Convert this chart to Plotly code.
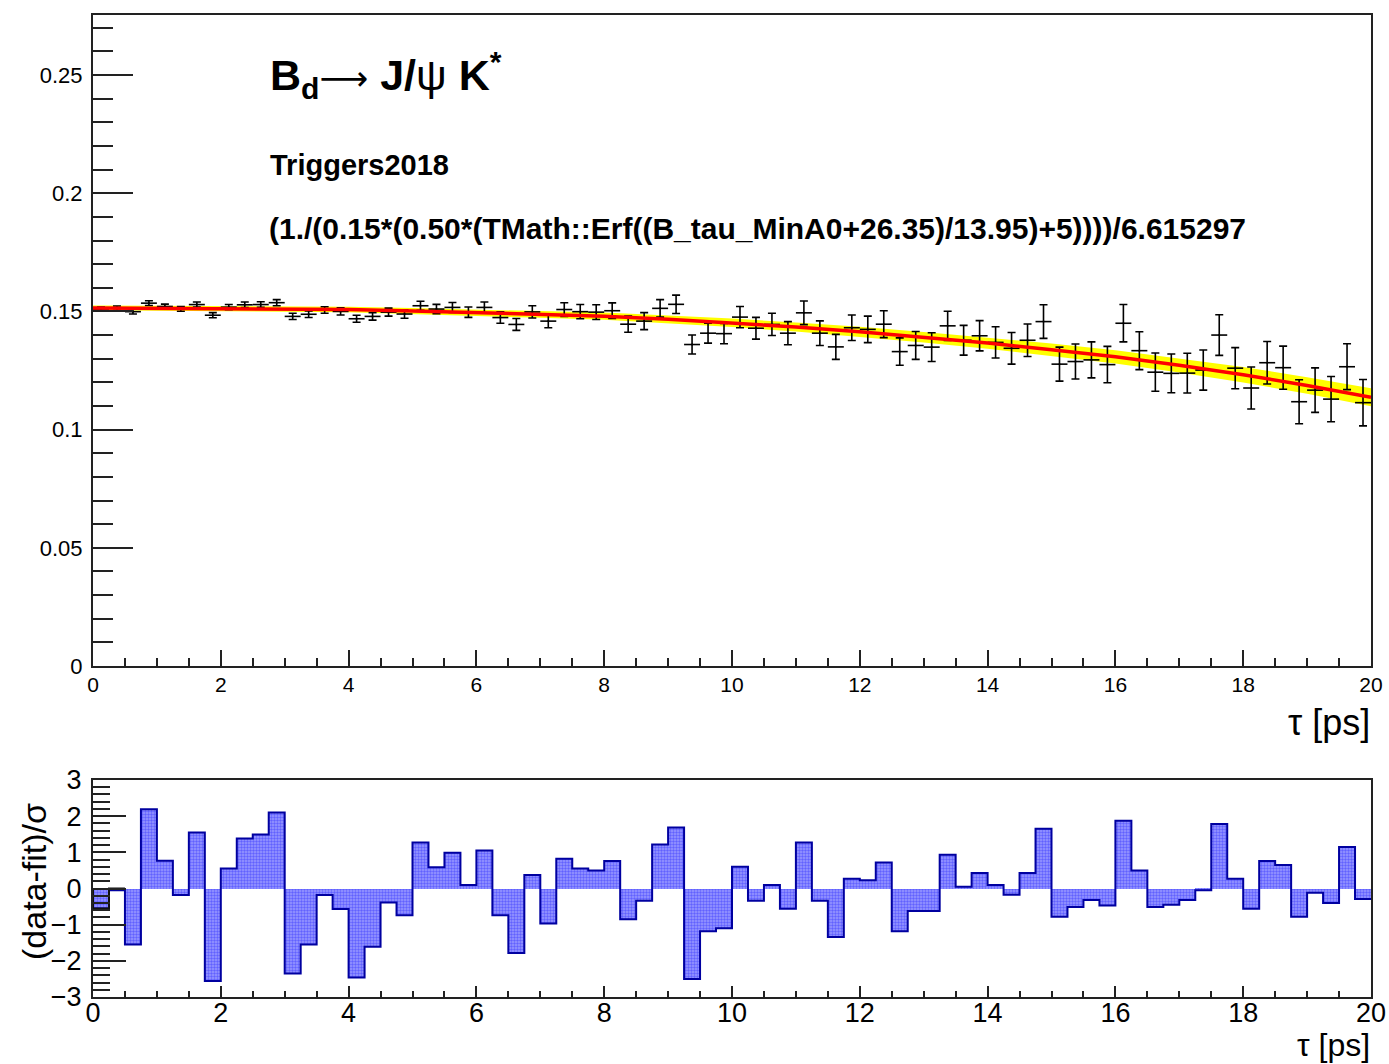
import numpy as np
import plotly.graph_objects as go

# Binning: 80 bins of 0.25 ps between 0 and 20 ps
bin_lo = 0.0
bin_hi = 20.0
n_bins = 80

# Efficiency-corrected yield per bin and its uncertainty
data_vals = [
    0.1510, 0.1514, 0.1499, 0.1535, 0.1521, 0.1511, 0.1529, 0.1484,
    0.1518, 0.1528, 0.1529, 0.1537, 0.1479, 0.1488, 0.1506, 0.1500,
    0.1469, 0.1479, 0.1497, 0.1489, 0.1524, 0.1510, 0.1517, 0.1497,
    0.1517, 0.1474, 0.1445, 0.1498, 0.1459, 0.1508, 0.1499, 0.1497,
    0.1503, 0.1446, 0.1459, 0.1513, 0.1530, 0.1360, 0.1408, 0.1406,
    0.1476, 0.1429, 0.1445, 0.1408, 0.1494, 0.1408, 0.1350, 0.1431,
    0.1424, 0.1446, 0.1330, 0.1356, 0.1349, 0.1439, 0.1378, 0.1397,
    0.1369, 0.1344, 0.1378, 0.1457, 0.1277, 0.1288, 0.1295, 0.1275,
    0.1450, 0.1334, 0.1243, 0.1238, 0.1239, 0.1252, 0.1400, 0.1260,
    0.1176, 0.1283, 0.1262, 0.1118, 0.1167, 0.1129, 0.1266, 0.1114,
]
data_errs = [
    0.0009, 0.0009, 0.0010, 0.0010, 0.0010, 0.0010, 0.0011, 0.0011,
    0.0011, 0.0012, 0.0012, 0.0013, 0.0013, 0.0014, 0.0014, 0.0015,
    0.0015, 0.0016, 0.0017, 0.0018, 0.0019, 0.0020, 0.0021, 0.0022,
    0.0023, 0.0024, 0.0025, 0.0026, 0.0028, 0.0029, 0.0030, 0.0031,
    0.0033, 0.0034, 0.0036, 0.0037, 0.0039, 0.0040, 0.0042, 0.0043,
    0.0045, 0.0046, 0.0047, 0.0049, 0.0050, 0.0052, 0.0053, 0.0054,
    0.0056, 0.0057, 0.0058, 0.0059, 0.0061, 0.0062, 0.0063, 0.0064,
    0.0066, 0.0067, 0.0069, 0.0071, 0.0072, 0.0074, 0.0076, 0.0077,
    0.0079, 0.0080, 0.0081, 0.0082, 0.0084, 0.0085, 0.0086, 0.0087,
    0.0089, 0.0090, 0.0091, 0.0093, 0.0094, 0.0096, 0.0097, 0.0098,
]

# Fit curve and its uncertainty band, sampled at whole picoseconds
fit_tau = [0, 1, 2, 3, 4, 5, 6, 7, 8, 9, 10, 11, 12, 13, 14, 15, 16, 17, 18, 19, 20]
fit_vals = [
    0.1515, 0.1514, 0.1512, 0.1510, 0.1508, 0.1502, 0.1494, 0.1487,
    0.1480, 0.1467, 0.1452, 0.1434, 0.1414, 0.1391, 0.1366, 0.1338,
    0.1308, 0.1272, 0.1232, 0.1187, 0.1137,
]
fit_band = [
    0.0010, 0.0010, 0.0011, 0.0011, 0.0012, 0.0012, 0.0013, 0.0014,
    0.0015, 0.0016, 0.0018, 0.0019, 0.0021, 0.0022, 0.0024, 0.0026,
    0.0028, 0.0030, 0.0033, 0.0035, 0.0038,
]

# Pull per bin: (data - fit) / sigma
pulls = [
    -0.55, -0.05, -1.55, 2.19, 0.77, -0.18, 1.55, -2.56,
    0.55, 1.38, 1.49, 2.10, -2.35, -1.55, -0.18, -0.57,
    -2.46, -1.61, -0.39, -0.74, 1.27, 0.59, 0.99, 0.10,
    1.05, -0.74, -1.78, 0.37, -0.97, 0.82, 0.55, 0.50,
    0.76, -0.85, -0.34, 1.22, 1.69, -2.50, -1.18, -1.10,
    0.60, -0.34, 0.10, -0.56, 1.27, -0.34, -1.34, 0.27,
    0.23, 0.72, -1.18, -0.62, -0.62, 0.93, 0.05, 0.43,
    0.10, -0.17, 0.43, 1.65, -0.78, -0.51, -0.32, -0.47,
    1.87, 0.50, -0.51, -0.45, -0.32, -0.05, 1.78, 0.27,
    -0.56, 0.76, 0.65, -0.78, -0.12, -0.40, 1.15, -0.29,
]

edges = np.linspace(bin_lo, bin_hi, n_bins + 1)
centers = 0.5 * (edges[:-1] + edges[1:])
half_w = 0.5 * (edges[1] - edges[0])

FONT = "Liberation Sans, Arial, Helvetica, sans-serif"
W, H = 1389, 1064

def px_x(p):
    return p / W

def px_y(p):
    return 1 - p / H

fig = go.Figure()

# Fit uncertainty band (yellow)
fit_hi = [v + e for v, e in zip(fit_vals, fit_band)]
fit_lo = [v - e for v, e in zip(fit_vals, fit_band)]
fig.add_trace(go.Scatter(
    x=fit_tau + fit_tau[::-1], y=fit_hi + fit_lo[::-1],
    fill="toself", fillcolor="#ffff00", line=dict(width=0, color="#ffff00"),
    mode="lines", hoverinfo="skip", showlegend=False, xaxis="x", yaxis="y",
))

# Data points with error bars
fig.add_trace(go.Scatter(
    x=centers, y=data_vals, mode="markers",
    marker=dict(size=2, color="black"),
    error_y=dict(type="data", array=data_errs, color="black", thickness=1.6, width=4),
    error_x=dict(type="constant", value=half_w, color="black", thickness=1.6, width=0),
    showlegend=False, xaxis="x", yaxis="y",
))

# Fit curve (red)
fig.add_trace(go.Scatter(
    x=fit_tau, y=fit_vals, mode="lines",
    line=dict(color="#ff0000", width=3.5),
    showlegend=False, xaxis="x", yaxis="y",
))

# Pull histogram: hatched fill
fig.add_trace(go.Bar(
    x=centers, y=pulls, width=2 * half_w,
    marker=dict(
        color="#6060ff", line=dict(width=0),
        pattern=dict(shape=".", fgcolor="#2828ff", bgcolor="#9a9aff", size=3, solidity=0.5),
    ),
    showlegend=False, xaxis="x2", yaxis="y2",
))

# Pull histogram outline
step_x = list(edges)
step_y = list(pulls) + [pulls[-1]]
fig.add_trace(go.Scatter(
    x=step_x, y=step_y, mode="lines", line=dict(color="#0000a0", width=2, shape="hv"),
    showlegend=False, xaxis="x2", yaxis="y2",
))

# Overlaid reference outline over the first bins
first_x = [edges[0], edges[0], edges[1], edges[1], edges[2]]
first_y = [0, pulls[0], pulls[0], 0, 0]
fig.add_trace(go.Scatter(
    x=first_x, y=first_y, mode="lines", line=dict(color="#111111", width=2),
    showlegend=False, xaxis="x2", yaxis="y2",
))

axis_line = dict(showline=True, linecolor="#222222", linewidth=2, mirror=True,
                 showgrid=False, zeroline=False, automargin=False)

fig.update_layout(
    width=W, height=H,
    margin=dict(l=0, r=0, t=0, b=0, pad=0, autoexpand=False),
    paper_bgcolor="white", plot_bgcolor="white",
    font=dict(family=FONT, color="black"),
    bargap=0,
    xaxis=dict(
        domain=[px_x(93), px_x(1371)], range=[0, 20], anchor="y",
        tickmode="linear", tick0=0, dtick=2, ticks="inside", ticklen=16, tickwidth=1.5,
        tickcolor="#222222", tickfont=dict(size=21, family=FONT), ticklabelstandoff=-1,
        minor=dict(ticks="inside", dtick=0.5, ticklen=8, tickwidth=1.5, tickcolor="#222222"),
        **axis_line,
    ),
    yaxis=dict(
        domain=[px_y(666), px_y(15)], range=[0, 0.2754], anchor="x",
        tickmode="linear", tick0=0, dtick=0.05, ticks="inside", ticklen=40, tickwidth=1.5,
        tickcolor="#222222", tickfont=dict(size=22, family=FONT), ticklabelstandoff=4,
        minor=dict(ticks="inside", dtick=0.01, ticklen=20, tickwidth=1.5, tickcolor="#222222"),
        **axis_line,
    ),
    xaxis2=dict(
        domain=[px_x(93), px_x(1371)], range=[0, 20], anchor="y2",
        tickmode="linear", tick0=0, dtick=2, ticks="inside", ticklen=11, tickwidth=1.5,
        tickcolor="#222222", tickfont=dict(size=27, family=FONT), ticklabelstandoff=-9,
        minor=dict(ticks="inside", dtick=0.5, ticklen=6, tickwidth=1.5, tickcolor="#222222"),
        **axis_line,
    ),
    yaxis2=dict(
        domain=[px_y(997), px_y(780)], range=[-3, 3], anchor="x2",
        tickmode="linear", tick0=-3, dtick=1, ticks="inside", ticklen=33, tickwidth=1.5,
        tickcolor="#222222", tickfont=dict(size=27, family=FONT), ticklabelstandoff=4,
        minor=dict(ticks="inside", dtick=0.2, ticklen=17, tickwidth=1.5, tickcolor="#222222"),
        **axis_line,
    ),
)

annotations = [
    dict(text="<b>B<sub>d</sub></b><span style='font-family:DejaVu Sans;font-size:34px'>⟶</span> <b>J/</b>ψ <b>K<sup>*</sup></b>",
         x=px_x(268), y=px_y(75), xanchor="left", yanchor="middle",
         font=dict(size=43, family=FONT)),
    dict(text="<b>Triggers2018</b>", x=px_x(268), y=px_y(165),
         xanchor="left", yanchor="middle", font=dict(size=29, family=FONT)),
    dict(text="<b>(1./(0.15*(0.50*(TMath::Erf((B_tau_MinA0+26.35)/13.95)+5))))/6.615297</b>",
         x=px_x(267), y=px_y(228), xanchor="left", yanchor="middle",
         font=dict(size=30, family=FONT)),
    dict(text="τ [ps]", x=px_x(1372), y=px_y(722), xanchor="right", yanchor="middle",
         font=dict(size=36, family=FONT)),
    dict(text="τ [ps]", x=px_x(1372), y=px_y(1045), xanchor="right", yanchor="middle",
         font=dict(size=32, family=FONT)),
    dict(text="(data-fit)/σ", x=px_x(34), y=px_y(882), xanchor="center", yanchor="middle",
         textangle=-90, font=dict(size=34, family=FONT)),
]
for a in annotations:
    a.update(xref="paper", yref="paper", showarrow=False)
fig.update_layout(annotations=annotations)

fig.write_html("out.html")
